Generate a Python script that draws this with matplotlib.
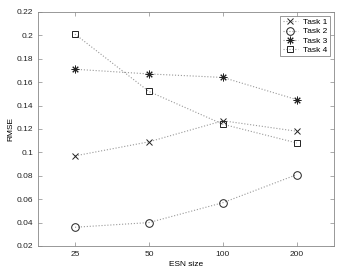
import matplotlib
matplotlib.use("Agg")
import matplotlib.pyplot as plt

# %% Data
sizes = ['25', '50', '100', '200']
task1 = [0.097, 0.109, 0.127, 0.118]
task2 = [0.036, 0.040, 0.057, 0.081]
task3 = [0.171, 0.167, 0.164, 0.145]
task4 = [0.201, 0.152, 0.124, 0.108]
yticks = [0.02, 0.04, 0.06, 0.08, 0.1, 0.12, 0.14, 0.16, 0.18, 0.2, 0.22]

plt.rcParams['font.family'] = ['Liberation Sans', 'DejaVu Sans']
plt.rcParams['font.size'] = 6

fig = plt.figure(figsize=(3.59, 2.77), dpi=100)
ax = fig.add_axes([0.106, 0.112, 0.824, 0.845])

x = range(1, len(sizes) + 1)
line_kw = dict(color='#999999', ls=':', lw=0.8, mec='#222222', mfc='none',
               mew=0.7)
ax.plot(x, task1, marker='x', ms=4.5, label='Task 1', **line_kw)
ax.plot(x, task2, marker='o', ms=5.5, label='Task 2', **line_kw)
ax.plot(x, task3, marker=(8, 2, 0), ms=5.5, label='Task 3', **line_kw)
ax.plot(x, task4, marker='s', ms=4.5, label='Task 4', **line_kw)

ax.set_xlim(0.5, 4.5)
ax.set_ylim(0.02, 0.22)
ax.set_xticks(list(x))
ax.set_xticklabels(sizes)
ax.set_yticks(yticks)
ax.set_yticklabels(['%g' % v for v in yticks])
ax.tick_params(direction='in', top=True, right=True, length=3,
               width=0.5, colors='#888888', labelcolor='#222222')
for s in ax.spines.values():
    s.set_color('#888888')
    s.set_linewidth(0.6)

ax.set_xlabel('ESN size', labelpad=2)
ax.set_ylabel('RMSE', labelpad=2)

leg = ax.legend(loc='upper right', fancybox=False, framealpha=1,
                edgecolor='#888888', handlelength=1.8, borderpad=0.3,
                labelspacing=0.15, handletextpad=0.6)
leg.get_frame().set_linewidth(0.6)

fig.savefig('out.png', dpi=100)
